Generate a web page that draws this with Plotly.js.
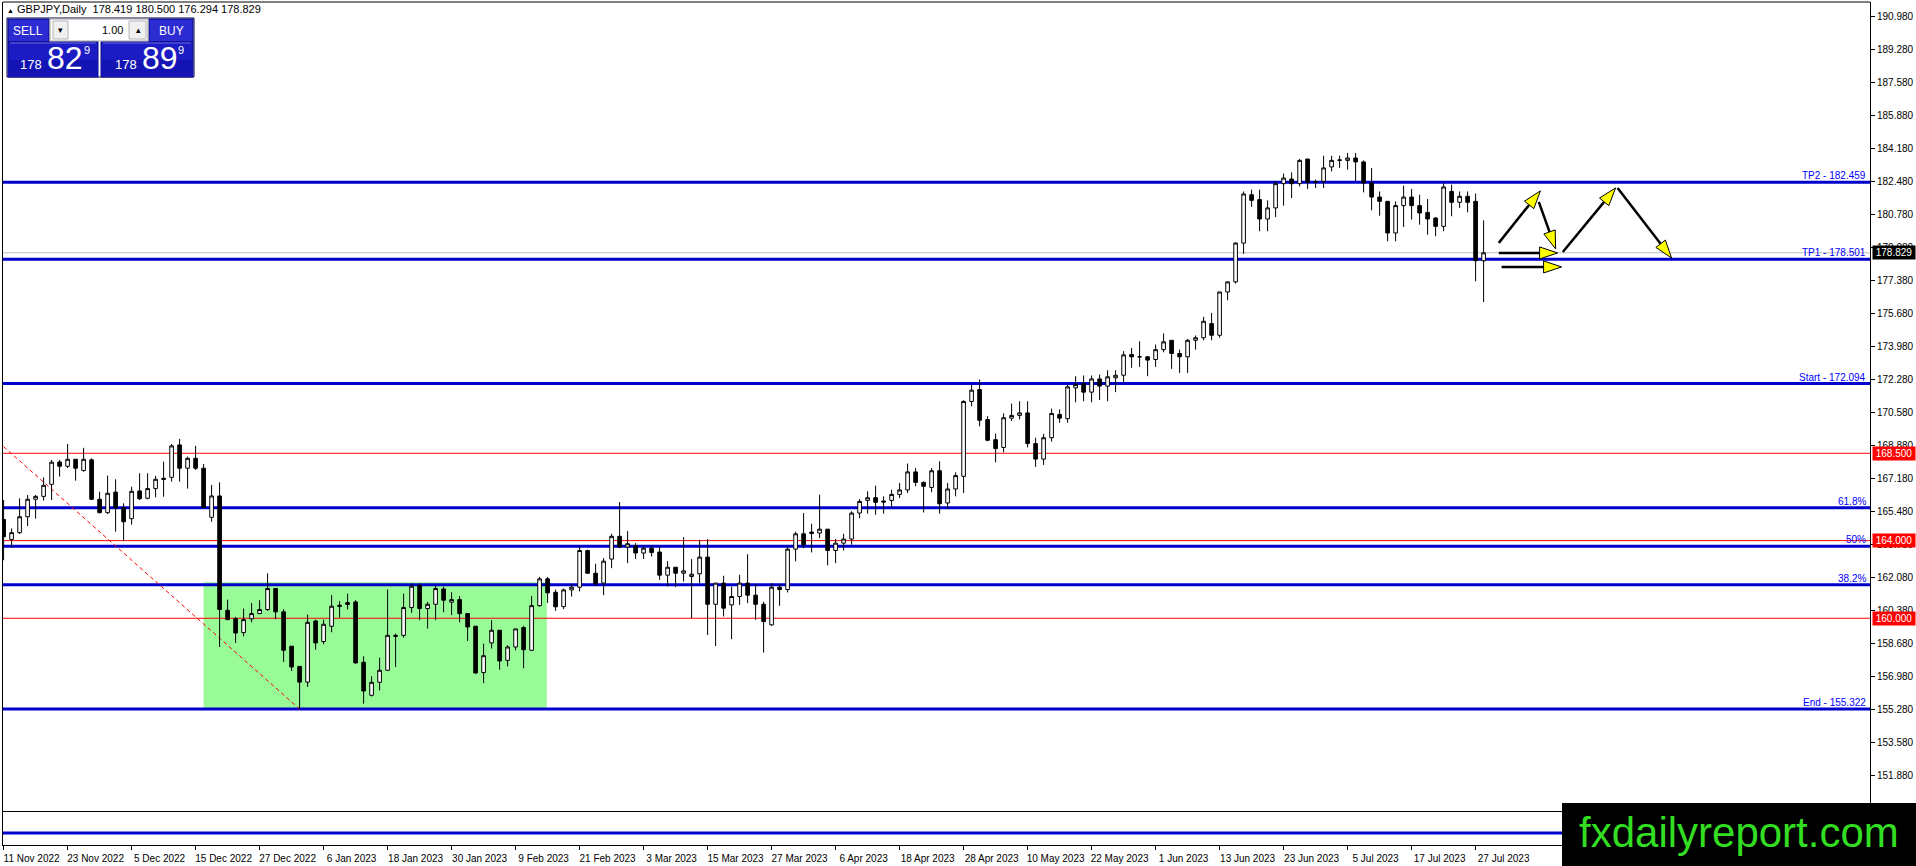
<!DOCTYPE html>
<html>
<head>
<meta charset="utf-8">
<script src="https://cdn.plot.ly/plotly-3.0.1.min.js"></script>
<style>html,body{margin:0;padding:0;background:#fff;}</style>
</head>
<body>
<div id="chart" style="width:1916px;height:866px"></div>
<script>
// GBPJPY daily candles, 11 Nov 2022 .. 28 Jul 2023 (one bar per trading day)
const open = [
  165.09,164.06,164.41,165.23,166.13,166.28,166.90,168.05,167.83,168.19,
  167.61,168.16,166.13,165.44,166.50,165.70,165.13,166.56,166.18,166.68,
  167.21,167.26,168.93,167.73,168.24,167.73,165.20,166.30,160.41,159.98,
  159.26,159.97,160.24,160.45,161.53,160.33,158.56,157.52,156.71,159.86,
  158.80,159.59,160.67,160.71,160.84,157.73,156.03,156.70,157.32,159.12,
  159.12,160.55,161.69,160.50,160.72,161.51,160.83,160.96,160.24,159.59,
  157.20,158.73,159.38,157.83,158.52,159.52,158.35,160.65,162.03,161.34,
  160.60,161.46,161.60,163.49,162.32,161.81,163.05,164.22,163.67,163.73,
  163.36,163.61,163.41,162.22,162.63,162.32,162.15,162.29,163.15,160.72,
  161.81,160.69,161.12,161.81,161.19,160.72,159.66,161.60,161.48,163.56,
  164.35,164.44,164.39,164.59,163.49,163.87,164.08,165.42,166.07,166.21,
  166.04,166.07,166.38,166.61,167.54,167.00,166.74,167.60,165.94,166.66,
  167.31,171.17,171.78,170.24,169.20,168.80,170.31,170.45,170.58,169.00,
  168.20,169.30,170.50,170.28,171.87,172.09,171.65,172.33,171.96,172.39,
  172.52,173.59,173.47,173.47,173.33,173.84,174.32,173.64,173.47,174.32,
  174.45,175.18,174.58,176.81,177.33,179.33,181.82,181.57,180.57,181.14,
  182.39,182.63,182.39,183.66,182.50,182.51,183.25,183.59,183.59,183.71,
  183.51,182.42,181.70,181.48,179.85,181.26,181.70,181.26,180.91,180.62,
  180.19,181.99,181.43,181.74,181.48,178.419
];
const high = [
  166.09,164.63,166.18,166.35,166.35,167.26,168.16,168.16,168.98,168.19,
  168.78,168.24,166.52,167.35,167.16,165.92,166.78,167.47,167.47,167.33,
  168.07,168.98,169.24,168.33,168.88,167.95,166.87,167.00,160.96,160.07,
  160.50,160.79,160.93,162.31,161.53,160.47,158.56,157.52,160.19,159.93,
  159.93,161.19,160.88,161.27,160.93,158.04,157.01,157.97,161.48,159.21,
  161.27,161.79,161.79,160.84,161.67,161.62,161.34,161.14,160.24,159.59,
  158.69,159.90,159.38,158.61,159.45,159.61,161.14,162.13,162.13,161.48,
  161.53,161.77,163.70,163.53,162.81,163.10,164.35,165.99,164.49,163.87,
  163.70,163.73,163.67,162.94,162.63,164.18,163.05,164.04,164.08,161.81,
  162.19,161.64,162.24,163.30,161.77,160.85,161.81,161.77,163.67,164.46,
  165.42,164.87,166.37,164.59,164.08,164.35,165.51,166.14,166.54,166.83,
  166.28,166.62,166.97,167.97,167.74,167.05,167.74,168.09,166.97,167.52,
  171.23,172.04,172.30,170.41,169.51,170.55,171.06,171.18,171.18,169.30,
  169.50,170.80,170.76,172.04,172.47,172.51,172.51,172.56,172.78,172.78,
  173.76,173.93,174.27,173.50,174.10,174.67,174.32,173.84,174.39,174.57,
  175.53,175.73,176.81,177.36,179.37,181.99,182.08,182.08,181.53,182.51,
  182.91,182.97,183.66,183.66,182.60,183.83,183.83,183.83,183.97,183.97,
  183.59,183.20,181.99,181.48,181.48,182.29,182.12,181.82,181.60,180.67,
  182.42,182.34,181.99,181.99,181.88,180.500
];
const low = [
  162.99,163.65,164.34,164.75,165.13,166.06,166.09,167.30,167.73,167.09,
  167.55,166.09,165.40,165.37,164.46,163.99,164.82,166.09,166.13,166.23,
  166.26,167.04,167.04,166.68,167.64,165.66,164.97,158.52,159.90,158.73,
  159.07,159.79,160.21,160.38,159.95,157.75,157.28,155.33,156.46,158.38,
  158.66,159.28,160.03,160.45,157.66,155.60,155.97,156.28,157.28,157.49,
  159.00,160.28,159.90,159.47,159.90,160.31,160.16,159.79,158.83,157.14,
  156.66,158.44,157.35,157.52,158.35,157.42,158.31,160.59,160.79,160.38,
  160.47,161.12,161.38,162.29,161.67,161.19,162.58,163.61,162.84,163.05,
  163.05,163.18,161.98,161.64,161.60,161.89,160.00,161.81,159.14,158.57,
  160.09,158.92,160.69,160.78,159.92,158.23,159.61,160.64,161.33,162.93,
  163.61,163.39,164.13,162.72,162.84,163.49,163.79,165.15,165.39,165.33,
  165.39,165.73,166.19,166.45,166.80,165.45,166.49,165.39,165.63,166.28,
  166.45,170.92,169.89,169.12,168.03,168.55,170.16,170.24,168.80,167.80,
  167.90,169.10,170.07,170.07,171.13,171.18,171.13,171.24,171.18,171.65,
  172.13,172.90,172.95,172.47,172.95,173.70,172.85,172.64,172.64,173.84,
  174.32,174.32,174.45,176.38,177.24,178.77,181.19,179.94,179.94,180.67,
  181.26,181.65,182.25,182.12,182.17,182.17,183.02,183.20,183.11,182.51,
  181.94,181.02,180.74,179.42,179.42,180.16,180.54,180.28,179.76,179.68,
  179.94,180.71,181.14,180.91,177.36,176.294
];
const close = [
  164.20,164.41,165.23,166.13,166.28,166.85,168.04,167.83,168.19,167.73,
  168.19,166.13,165.44,166.44,165.68,164.97,166.54,166.16,166.68,167.16,
  167.16,168.88,167.73,168.24,167.73,165.71,166.30,160.45,159.93,159.24,
  159.93,160.24,160.45,161.53,160.33,158.35,157.49,156.71,159.79,158.73,
  159.69,160.62,160.62,160.81,157.70,156.25,156.70,157.32,159.12,159.07,
  160.55,161.65,160.50,160.72,161.53,160.93,160.96,160.24,159.55,157.18,
  158.07,159.38,157.80,158.52,159.45,158.38,160.65,162.03,161.31,160.59,
  161.46,161.60,163.49,162.32,161.77,162.94,164.22,163.67,163.84,163.36,
  163.61,163.39,162.22,162.63,162.32,162.44,162.27,163.15,160.72,161.81,
  160.52,161.12,161.81,161.19,160.72,159.83,161.60,161.48,163.56,164.35,
  163.79,164.37,164.59,163.49,163.87,164.08,165.42,166.02,166.21,165.97,
  165.99,166.38,166.61,167.54,167.00,166.80,167.60,165.90,166.66,167.35,
  171.17,171.75,170.20,169.17,168.74,170.33,170.45,170.58,169.00,168.20,
  169.30,170.55,170.31,171.92,172.04,171.65,172.33,171.96,172.44,172.52,
  173.57,173.47,173.47,173.30,173.84,174.24,173.64,173.47,174.32,174.45,
  175.30,174.58,176.81,177.33,179.33,181.86,181.53,180.57,181.14,182.39,
  182.68,182.39,183.59,182.46,182.48,183.20,183.59,183.61,183.71,183.51,
  182.42,181.70,181.48,179.85,181.26,181.70,181.26,180.88,180.57,180.19,
  182.22,181.43,181.74,181.43,178.42,178.829
];

// x axis labels, one every 8 bars
const tickLabels = ["11 Nov 2022","23 Nov 2022","5 Dec 2022","15 Dec 2022","27 Dec 2022",
  "6 Jan 2023","18 Jan 2023","30 Jan 2023","9 Feb 2023","21 Feb 2023","3 Mar 2023",
  "15 Mar 2023","27 Mar 2023","6 Apr 2023","18 Apr 2023","28 Apr 2023","10 May 2023",
  "22 May 2023","1 Jun 2023","13 Jun 2023","23 Jun 2023","5 Jul 2023","17 Jul 2023","27 Jul 2023"];

// drawn objects
const blueLevels = [182.459, 178.501, 172.094, 165.687, 163.708, 161.729, 155.322];
const blueLabels = ["TP2 - 182.459", "TP1 - 178.501", "Start - 172.094", "61.8%", "50%", "38.2%", "End - 155.322"];
const redLevels = [168.5, 164.0, 160.0];
const zone = [25.0, 67.9, 155.322, 161.85];        // x0, x1, y0, y1
const fibTrend = [0, 168.84, 37, 155.322];
// arrows: tail bar, tail price, tip bar, tip price
const arrows = [
  [186.9, 179.34, 192.1, 182.02],
  [191.9, 181.45, 194.0, 179.03],
  [186.9, 178.82, 194.25, 178.82],
  [187.25, 178.10, 194.75, 178.10],
  [194.9, 178.87, 201.5, 182.17],
  [201.75, 182.17, 208.5, 178.56]
];

const XR = [-0.075, 233.3];
const YR = [150.02, 191.75];
const FONT = 'Liberation Sans, Arial, sans-serif';
const n = close.length;
const bid = close[n - 1];

const PX = p => (p - 3) / 1867;
const PY = p => (845 - p) / 843;

const shapes = [];
const annotations = [];

shapes.push({type: 'rect', xref: 'x', yref: 'y', x0: zone[0], x1: zone[1], y0: zone[2], y1: zone[3],
  fillcolor: '#98fb98', line: {width: 0}, layer: 'below'});
redLevels.forEach(v => shapes.push({type: 'line', xref: 'x', yref: 'y', x0: XR[0], x1: XR[1], y0: v, y1: v,
  line: {color: '#ff0000', width: 1}, layer: 'below'}));
shapes.push({type: 'line', xref: 'x', yref: 'y', x0: XR[0], x1: XR[1], y0: bid, y1: bid,
  line: {color: '#c0c0c0', width: 1}, layer: 'below'});
blueLevels.forEach(v => shapes.push({type: 'line', xref: 'x', yref: 'y', x0: XR[0], x1: XR[1], y0: v, y1: v,
  line: {color: '#0000cc', width: 3}, layer: 'below'}));
shapes.push({type: 'line', xref: 'x', yref: 'y', x0: fibTrend[0], y0: fibTrend[1], x1: fibTrend[2], y1: fibTrend[3],
  line: {color: '#ff0000', width: 1, dash: '4px,3px'}, layer: 'below'});
// sub window level
shapes.push({type: 'line', xref: 'x', yref: 'y2', x0: XR[0], x1: XR[1], y0: 0.36, y1: 0.36,
  line: {color: '#0000cc', width: 3}});
// top border of the chart window
shapes.push({type: 'line', xref: 'paper', yref: 'paper', x0: 0, x1: 1, y0: 1, y1: 1, line: {color: '#000', width: 1}});

// arrows: black shaft, yellow head
const XS = 1867 / (XR[1] - XR[0]);
const YS = 810 / (YR[1] - YR[0]);
arrows.forEach(([tx, ty, hx, hy]) => {
  const dx = (hx - tx) * XS, dy = -(hy - ty) * YS;
  const len = Math.hypot(dx, dy), ux = dx / len, uy = dy / len;
  const toData = (ox, oy) => [hx + ox / XS, hy - oy / YS];
  const L = 18, Wd = 6;
  const base = toData(-ux * L, -uy * L);
  const p1 = toData(-ux * L - uy * Wd, -uy * L + ux * Wd);
  const p2 = toData(-ux * L + uy * Wd, -uy * L - ux * Wd);
  shapes.push({type: 'line', xref: 'x', yref: 'y', x0: tx, y0: ty, x1: base[0], y1: base[1],
    line: {color: '#000', width: 2.5}});
  shapes.push({type: 'path', xref: 'x', yref: 'y',
    path: `M${hx},${hy} L${p1[0]},${p1[1]} L${p2[0]},${p2[1]} Z`,
    fillcolor: '#ffff00', line: {color: '#000', width: 1}});
});

// level captions
blueLevels.forEach((v, i) => annotations.push({xref: 'paper', x: 1, xanchor: 'right', xshift: -2,
  yref: 'y', y: v, yanchor: 'bottom', yshift: -1, text: blueLabels[i], showarrow: false,
  font: {family: FONT, size: 10, color: '#0000ff'}}));

// price boxes on the axis
redLevels.forEach(v => annotations.push({xref: 'paper', x: 1, xanchor: 'left', xshift: 2,
  yref: 'y', y: v, yanchor: 'middle', text: v.toFixed(3), showarrow: false, bgcolor: '#ff0000',
  borderpad: 1, width: 40, font: {family: FONT, size: 10, color: '#fff'}}));
annotations.push({xref: 'paper', x: 1, xanchor: 'left', xshift: 2, yref: 'y', y: bid, yanchor: 'middle',
  text: bid.toFixed(3), showarrow: false, bgcolor: '#000', borderpad: 1, width: 40,
  font: {family: FONT, size: 10, color: '#fff'}});

// header line
annotations.push({xref: 'paper', yref: 'paper', x: PX(5), y: PY(9), xanchor: 'left', yanchor: 'middle',
  showarrow: false, font: {family: FONT, size: 11, color: '#000'},
  text: '<span style="font-size:7px">\u25B2</span> GBPJPY,Daily\u00a0\u00a0' +
    [open[n - 1], high[n - 1], low[n - 1], close[n - 1]].map(v => v.toFixed(3)).join(' ')});

// one-click trading panel
const rect = (x0, y0, x1, y1, fill, line) => shapes.push({type: 'rect', xref: 'paper', yref: 'paper',
  x0: PX(x0), x1: PX(x1), y0: PY(y1), y1: PY(y0), fillcolor: fill,
  line: line ? {color: line, width: 1} : {width: 0}});
const label = (x, y, text, size, color, anchor) => annotations.push({xref: 'paper', yref: 'paper',
  x: PX(x), y: PY(y), xanchor: anchor || 'center', yanchor: 'middle', text, showarrow: false,
  font: {family: FONT, size, color}});

rect(7, 18, 194, 77, '#ffffff', '#000040');
rect(8, 19, 49, 42, '#2c2cd2', '#0a0a80');
rect(149, 19, 193, 42, '#2c2cd2', '#0a0a80');
rect(50, 19, 148, 41, '#ffffff', '#a0a0a0');
rect(53, 21, 68, 39, '#f0f0f0', '#b4b4b4');
rect(129, 21, 146, 39, '#f0f0f0', '#b4b4b4');
rect(8, 42, 98, 77, '#1c1cc4', '#0a0a80');
rect(101, 42, 193, 77, '#1c1cc4', '#0a0a80');
rect(8, 60, 98, 77, '#1414b4', null);
rect(101, 60, 193, 77, '#1414b4', null);
shapes.push({type: 'line', xref: 'paper', yref: 'paper', x0: PX(10), x1: PX(96), y0: PY(43), y1: PY(43),
  line: {color: '#6a6ae8', width: 1}});
shapes.push({type: 'line', xref: 'paper', yref: 'paper', x0: PX(103), x1: PX(191), y0: PY(43), y1: PY(43),
  line: {color: '#6a6ae8', width: 1}});

label(28, 31, 'SELL', 12, '#fff');
label(171, 31, 'BUY', 12, '#fff');
label(125, 30, '1.00', 11, '#000', 'right');
label(60, 30, '\u25BE', 9, '#000');
label(138, 30, '\u25B4', 9, '#000');
const bidStr = bid.toFixed(3), askStr = (bid + 0.07).toFixed(3);
label(31, 65, bidStr.slice(0, 3), 13, '#fff');
label(65, 58, bidStr.slice(4, 6), 32, '#fff');
label(87, 50, bidStr.slice(6), 11, '#fff');
label(126, 65, askStr.slice(0, 3), 13, '#fff');
label(160, 58, askStr.slice(4, 6), 32, '#fff');
label(181, 50, askStr.slice(6), 11, '#fff');

// watermark box
shapes.push({type: 'rect', xref: 'paper', yref: 'paper', x0: PX(1562), x1: PX(1916), y0: PY(866), y1: PY(803),
  fillcolor: '#000', line: {width: 0}});
annotations.push({xref: 'paper', yref: 'paper', x: PX(1739), y: PY(832), xanchor: 'center', yanchor: 'middle',
  text: 'fxdailyreport.com', showarrow: false, font: {family: FONT, size: 42, color: '#33dd22'}});

const traces = [
  {
    type: 'candlestick',
    x: open.map((_, i) => i),
    open: open, high: high, low: low, close: close,
    increasing: {line: {color: '#000', width: 1}, fillcolor: '#fff'},
    decreasing: {line: {color: '#000', width: 1}, fillcolor: '#000'},
    whiskerwidth: 0,
    hoverinfo: 'skip',
    xaxis: 'x', yaxis: 'y'
  },
  {type: 'scatter', x: [], y: [], xaxis: 'x', yaxis: 'y2', hoverinfo: 'skip'}
];

const layout = {
  width: 1916, height: 866,
  margin: {l: 3, r: 46, t: 2, b: 21, pad: 0},
  paper_bgcolor: '#fff', plot_bgcolor: '#fff',
  showlegend: false,
  boxgap: 0.35,
  font: {family: FONT, size: 10, color: '#000'},
  xaxis: {
    range: XR, anchor: 'y2', rangeslider: {visible: false},
    tickmode: 'array', tickvals: tickLabels.map((_, i) => i * 8), ticktext: tickLabels,
    ticks: 'outside', ticklen: 4, tickcolor: '#000', tickangle: 0, ticklabelshift: 28,
    showline: true, linecolor: '#000', linewidth: 1, mirror: true,
    showgrid: false, zeroline: false, fixedrange: true,
    tickfont: {family: FONT, size: 10, color: '#000'}
  },
  yaxis: {
    domain: [0.0392, 1], range: YR, anchor: 'x', side: 'right',
    tick0: 151.88, dtick: 1.7, tickformat: '.3f',
    ticks: 'outside', ticklen: 4, tickcolor: '#000',
    showline: true, linecolor: '#000', linewidth: 1, mirror: true,
    showgrid: false, zeroline: false, fixedrange: true,
    tickfont: {family: FONT, size: 10, color: '#000'}
  },
  yaxis2: {
    domain: [0, 0.0392], range: [0, 1], anchor: 'x', side: 'right',
    showticklabels: false, ticks: '',
    showline: true, linecolor: '#000', linewidth: 1, mirror: true,
    showgrid: false, zeroline: false, fixedrange: true
  },
  shapes: shapes,
  annotations: annotations
};

Plotly.newPlot('chart', traces, layout, {displayModeBar: false, staticPlot: true});
</script>
</body>
</html>
